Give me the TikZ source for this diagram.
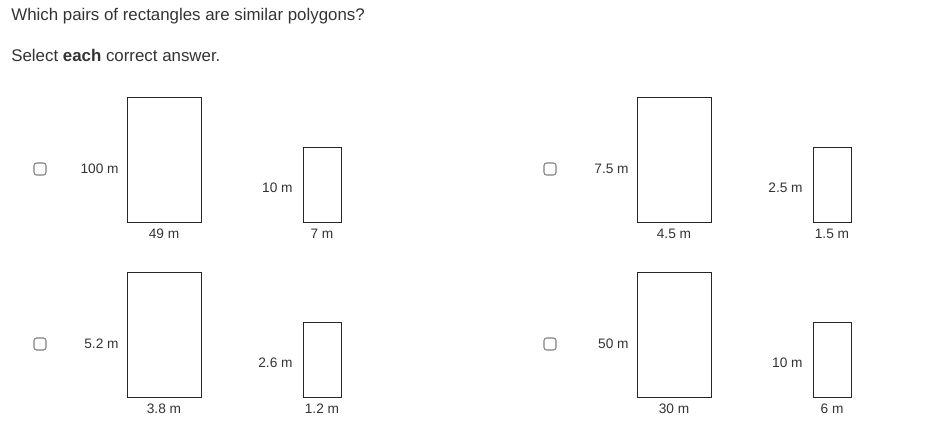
\documentclass[tikz,border=0pt]{standalone}
\usepackage{fontspec}
\setmainfont{Liberation Sans}
\definecolor{txtgray}{HTML}{333333}
\definecolor{boxgray}{HTML}{808080}

\begin{document}
\begin{tikzpicture}[x=0.02cm,y=-0.02cm,
  rect/.style={draw=black!85,line width=0.55pt},
  lbl/.style={font=\fontsize{7.8}{9}\selectfont,text=txtgray,inner sep=0pt},
  head/.style={font=\fontsize{9.6}{11}\selectfont,text=txtgray,inner sep=0pt,anchor=base west},
  tickbox/.style={draw=boxgray,rounded corners=1.5pt,line width=0.6pt}]

  \useasboundingbox (0,0) rectangle (946,431);

  \node[head] (question) at (11,21) {Which pairs of rectangles are similar polygons?};
  \node[head] (hint) at (11,62) {Select \textbf{each} correct answer.};

  % one answer choice per row and column
  \foreach \dx/\dy/\hb/\wb/\hs/\ws/\n in {0/0/100 m/49 m/10 m/7 m/a,
      510/0/7.5 m/4.5 m/2.5 m/1.5 m/b,
      0/175/5.2 m/3.8 m/2.6 m/1.2 m/c,
      510/175/50 m/30 m/10 m/6 m/d}{
    \draw[tickbox] (\dx+34,\dy+163) rectangle (\dx+46,\dy+175);
    \draw[rect] (\dx+127,\dy+97) rectangle (\dx+201,\dy+222);
    \draw[rect] (\dx+303,\dy+147) rectangle (\dx+341,\dy+222);
    \node[lbl,anchor=east] (hb-\n) at (\dx+119,\dy+169) {\hb};
    \node[lbl] (wb-\n) at (\dx+164,\dy+234) {\wb};
    \node[lbl,anchor=east] (hs-\n) at (\dx+293,\dy+188) {\hs};
    \node[lbl] (ws-\n) at (\dx+322,\dy+234) {\ws};
  }
\end{tikzpicture}
\end{document}
